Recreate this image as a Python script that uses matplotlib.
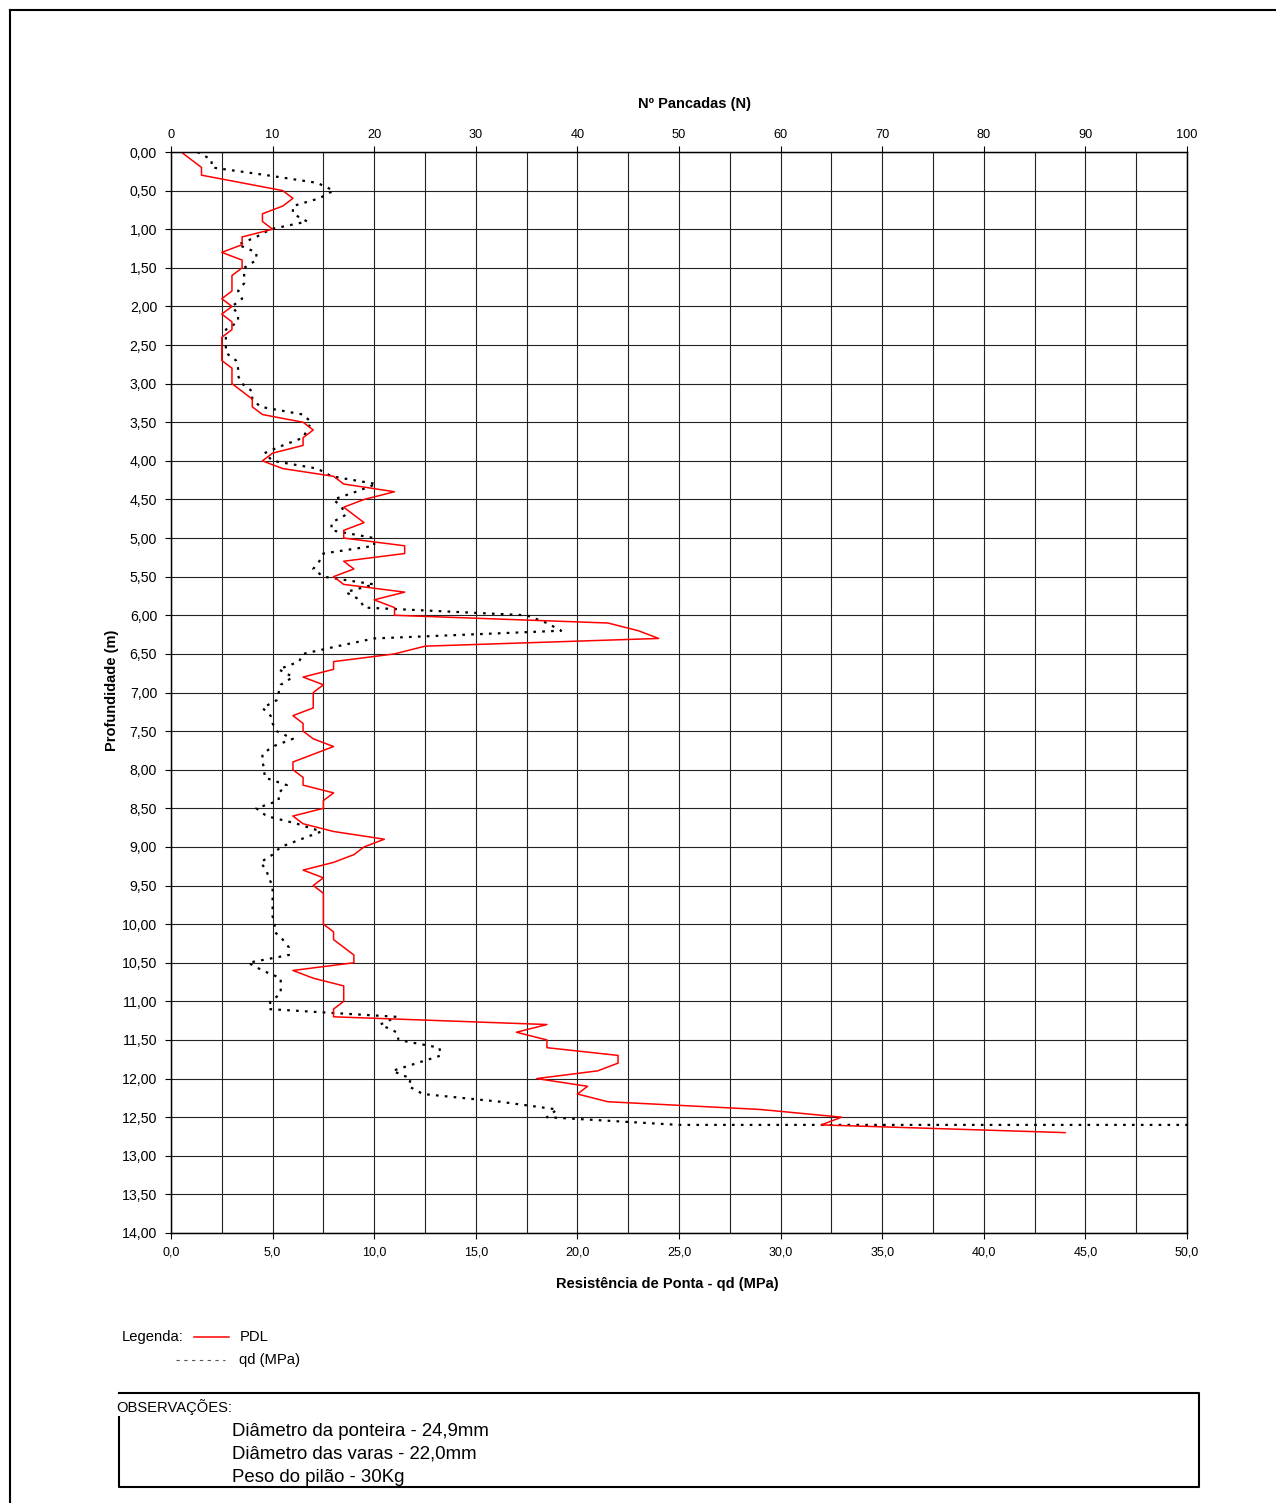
import numpy as np
import matplotlib
matplotlib.use("Agg")
from matplotlib import pyplot as plt
from matplotlib.lines import Line2D

plt.rcParams["font.family"] = ["Liberation Sans", "DejaVu Sans"]

# profundidades das leituras (a cada 10 cm)
profundidade = np.round(np.arange(0.0, 12.71, 0.1), 1)

# PDL - numero de pancadas N (eixo de cima)
pdl_n = [1, 2, 3, 3, 7, 11, 12, 11, 9, 9,
         10, 7, 7, 5, 7, 7, 6, 6, 6, 5,
         6, 5, 6, 6, 5, 5, 5, 5, 6, 6,
         6, 7, 8, 8, 9, 13, 14, 13, 13, 10,
         9, 11, 16, 17, 22, 19, 17, 18, 19, 17,
         17, 23, 23, 17, 18, 16, 17, 23, 20, 22,
         22, 43, 46, 48, 25, 22, 16, 16, 13, 15,
         14, 14, 14, 12, 13, 13, 14, 16, 14, 12,
         12, 13, 13, 16, 15, 15, 12, 13, 16, 21,
         19, 18, 16, 13, 15, 14, 15, 15, 15, 15,
         15, 16, 16, 17, 18, 18, 12, 14, 17, 17,
         17, 16, 16, 37, 34, 37, 37, 44, 44, 42,
         36, 41, 40, 43, 58, 66, 64, 88]

# qd (MPa) - eixo de baixo; ultimo ponto = nega (fora da escala)
qd_prof = list(profundidade[:127]) + [12.6]
qd_mpa = [1.3, 2.0, 2.0, 4.7, 7.2, 8.0, 7.3, 6.0, 6.0, 6.7,
          4.9, 4.2, 3.3, 4.2, 4.2, 3.6, 3.6, 3.6, 3.3, 3.5,
          3.0, 3.3, 3.3, 2.7, 2.7, 2.7, 2.7, 3.2, 3.3, 3.3,
          3.5, 4.0, 4.0, 4.4, 6.5, 6.9, 6.7, 6.5, 5.5, 4.6,
          5.0, 7.2, 7.9, 10.1, 9.1, 8.0, 8.4, 8.6, 7.9, 7.9,
          10.0, 10.0, 7.5, 7.3, 7.0, 7.5, 10.0, 8.6, 9.3, 9.5,
          17.5, 18.5, 19.2, 10.0, 8.2, 6.5, 6.3, 5.3, 6.0, 5.4,
          5.3, 5.2, 4.5, 4.9, 5.0, 5.2, 6.0, 5.0, 4.5, 4.5,
          4.6, 4.6, 5.7, 5.3, 5.3, 4.2, 4.7, 6.2, 7.4, 6.4,
          5.4, 5.0, 4.4, 4.7, 4.8, 5.0, 5.0, 5.0, 5.0, 5.0,
          5.1, 5.1, 5.5, 5.8, 5.8, 3.8, 4.5, 5.4, 5.4, 5.4,
          4.9, 4.8, 11.1, 10.3, 11.1, 11.2, 13.2, 13.3, 12.1, 10.9,
          11.8, 11.7, 12.4, 16.2, 19.0, 18.5, 25.0, 60.0]

n_ticks = list(range(0, 101, 10))
qd_ticks = list(range(0, 51, 5))
prof_ticks = [i * 0.5 for i in range(29)]

n_labels = [str(v) for v in n_ticks]
qd_labels = [f"{v:.1f}".replace(".", ",") for v in qd_ticks]
prof_labels = [f"{v:.2f}".replace(".", ",") for v in prof_ticks]

observacoes = ["Diâmetro da ponteira - 24,9mm",
               "Diâmetro das varas - 22,0mm",
               "Peso do pilão - 30Kg"]

W, H = 1276, 1503


def fx(px):
    return px / W


def fy(py):
    return 1 - py / H


fig = plt.figure(figsize=(W / 100, H / 100), dpi=100)
ax = fig.add_axes([fx(171), fy(1233), (1187 - 171) / W, (1233 - 152) / H])

ax.set_xlim(0, 50)
ax.set_ylim(14, 0)
ax.set_xticks(qd_ticks)
ax.set_xticklabels(qd_labels, fontsize=9)
ax.set_xticks(np.arange(2.5, 50, 5), minor=True)
ax.set_yticks(prof_ticks)
ax.set_yticklabels(prof_labels, fontsize=10.2)
ax.tick_params(axis="both", which="major", direction="out", length=4,
               width=0.8, pad=6)
ax.tick_params(which="minor", length=0)
ax.grid(which="both", color="#222222", lw=0.8)
ax.set_axisbelow(True)
for s in ax.spines.values():
    s.set_linewidth(1.0)

ax.plot(qd_mpa, qd_prof, color="black", lw=1.6, linestyle=(0, (1.2, 2.8)))

ax_top = ax.twiny()
ax_top.set_xlim(0, 100)
ax_top.set_xticks(n_ticks)
ax_top.set_xticklabels(n_labels, fontsize=9.2)
ax_top.tick_params(axis="x", direction="out", length=4, width=0.8, pad=4)
ax_top.plot(pdl_n, profundidade, color="red", lw=1.1)

# titulos dos eixos
fig.text(fx(694), fy(104), "Nº Pancadas (N)", fontsize=10.5,
         fontweight="bold", ha="center", va="center")
fig.text(fx(667), fy(1284), "Resistência de Ponta - qd (MPa)", fontsize=10.5,
         fontweight="bold", ha="center", va="center")
fig.text(fx(112), fy(690), "Profundidade (m)", fontsize=10.5,
         fontweight="bold", ha="center", va="center", rotation=90)

# moldura da folha
fig.add_artist(Line2D([fx(10), fx(10)], [fy(10), fy(1503)], color="black",
                      lw=1.5, transform=fig.transFigure))
fig.add_artist(Line2D([fx(10), fx(1276)], [fy(10), fy(10)], color="black",
                      lw=1.5, transform=fig.transFigure))

# legenda
fig.text(fx(122), fy(1337), "Legenda:", fontsize=10.6, va="center")
fig.add_artist(Line2D([fx(194), fx(229)], [fy(1337), fy(1337)], color="red",
                      lw=1.1, transform=fig.transFigure))
fig.text(fx(240), fy(1337), "PDL", fontsize=10.6, va="center")
fig.add_artist(Line2D([fx(176), fx(225)], [fy(1360), fy(1360)],
                      color="#555555", lw=0.8, linestyle=(0, (3, 4)),
                      transform=fig.transFigure))
fig.text(fx(239), fy(1360), "qd (MPa)", fontsize=10.6, va="center")

# observacoes
box = [(119, 1416), (119, 1487), (1199, 1487), (1199, 1393), (119, 1393)]
fig.add_artist(Line2D([fx(p[0]) for p in box], [fy(p[1]) for p in box],
                      color="black", lw=1.5, transform=fig.transFigure))
fig.text(fx(116), fy(1407), "OBSERVAÇÕES:", fontsize=10.6, va="center",
         bbox=dict(facecolor="white", edgecolor="none", pad=1))
for i, linha in enumerate(observacoes):
    fig.text(fx(232), fy(1431 + 23 * i), linha, fontsize=13.4, va="center")

fig.savefig("out.png", dpi=100)
